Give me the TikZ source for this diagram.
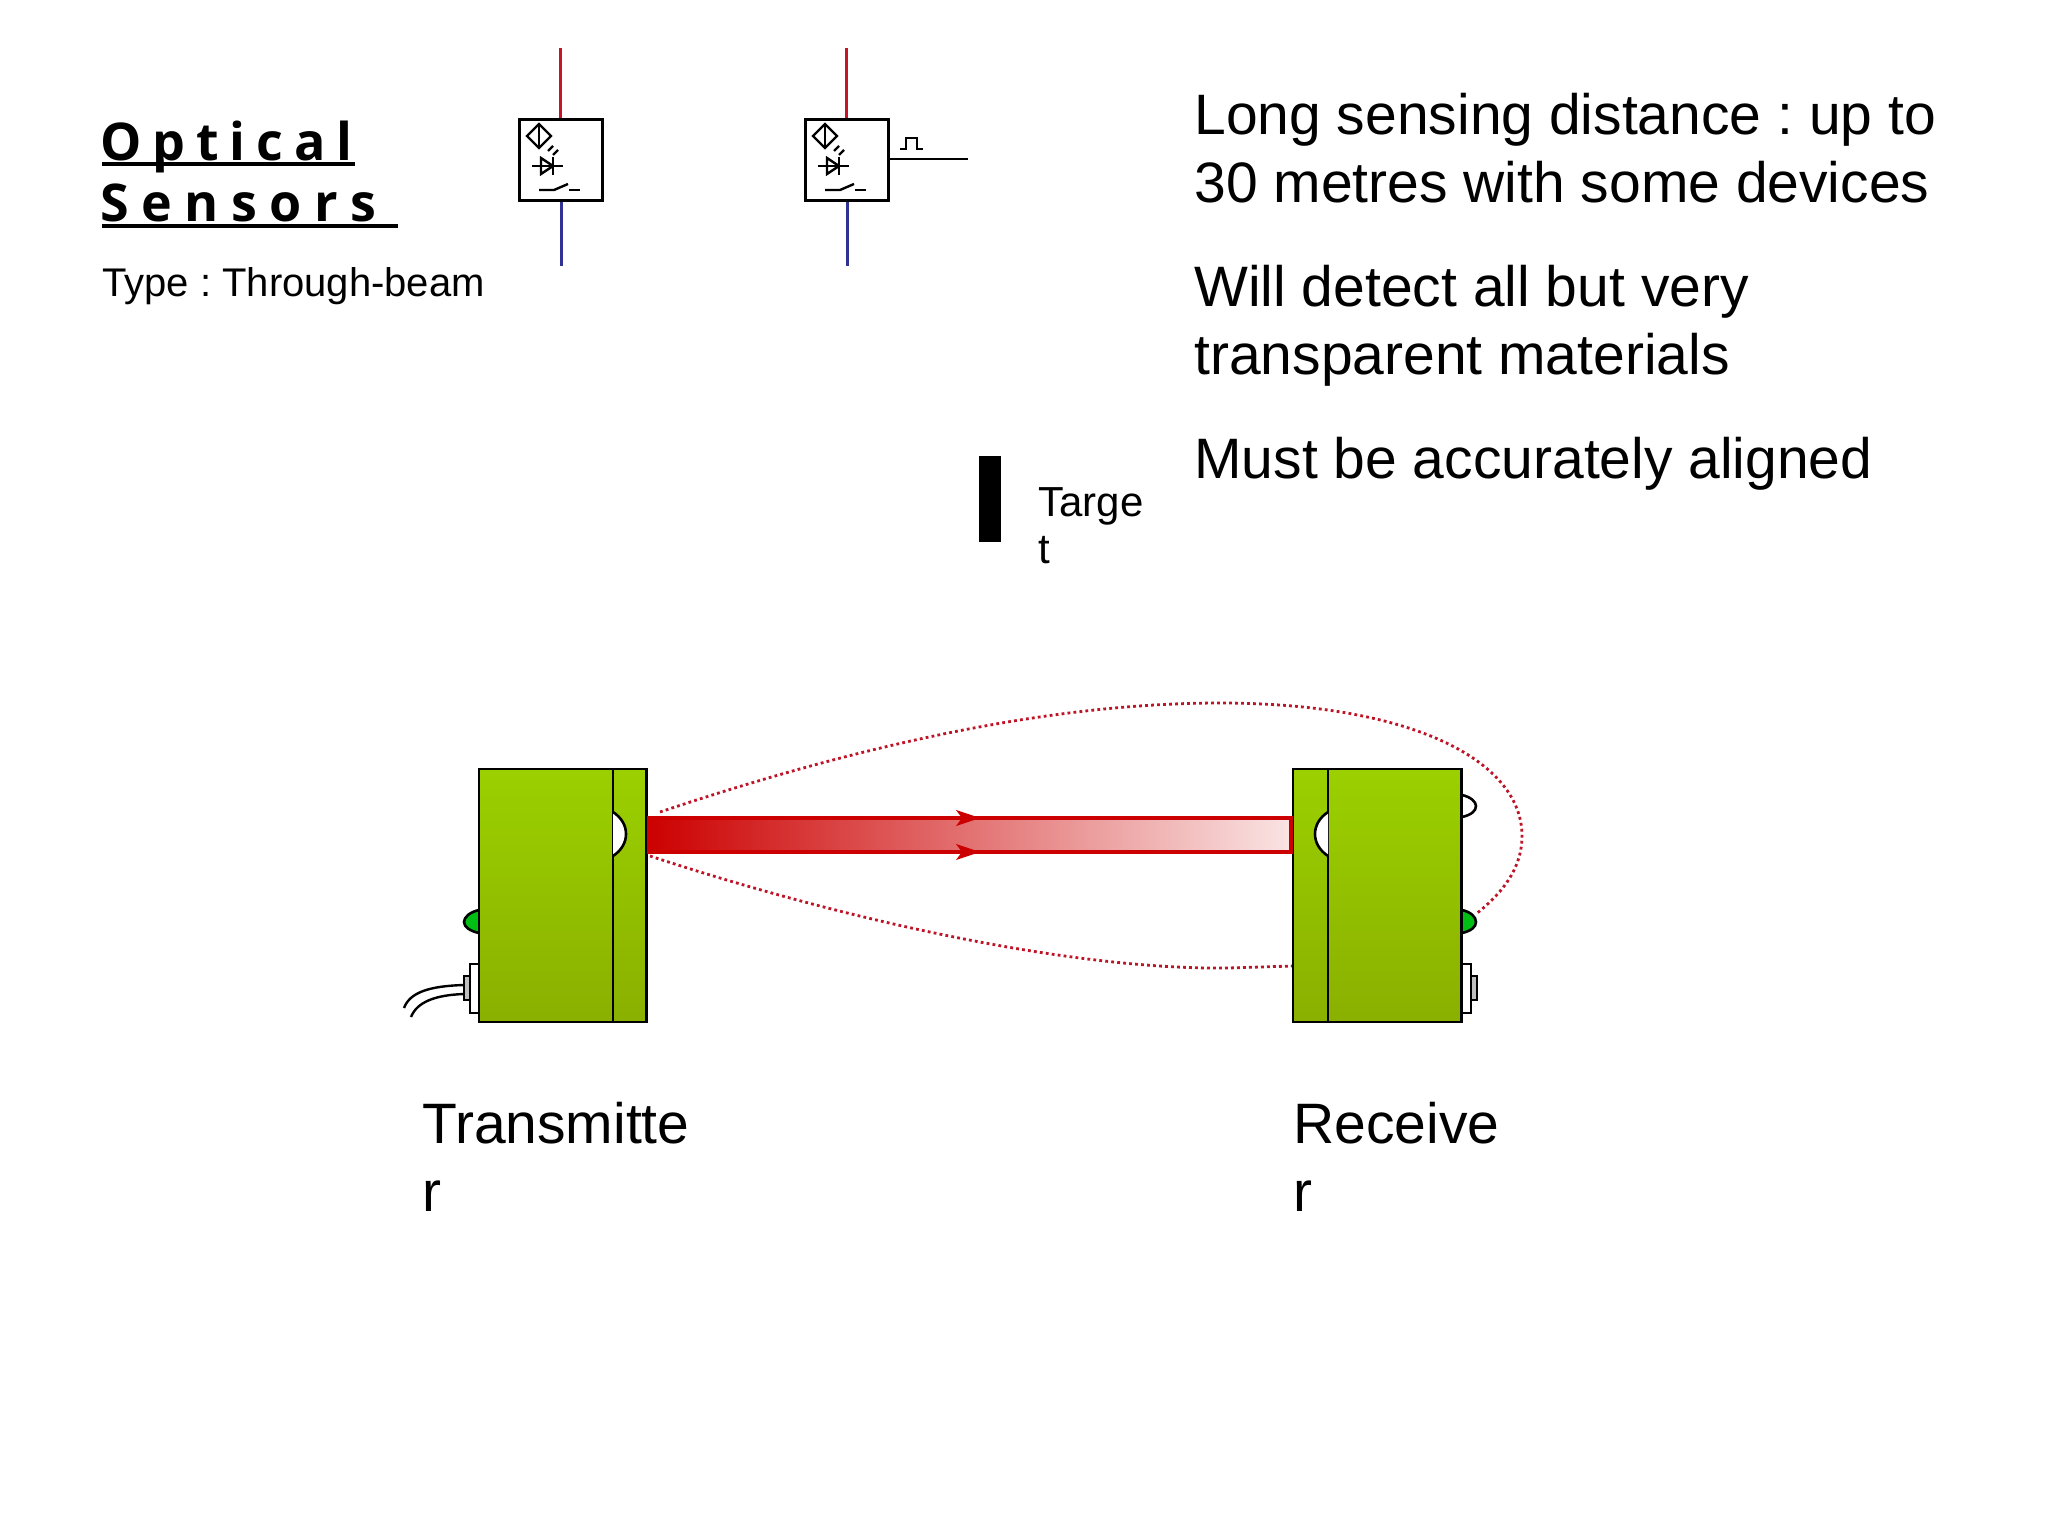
\documentclass[tikz,border=0pt]{standalone}
\usepackage{fontspec}
\setmainfont{Liberation Sans}
\newfontfamily\titlefont[LetterSpace=24]{Open Sans}
\newfontfamily\titlefonttight[LetterSpace=21]{Open Sans}
\frenchspacing
\usetikzlibrary{arrows.meta}
\definecolor{symred}{RGB}{200,20,40}
\definecolor{symblue}{RGB}{50,50,150}
\definecolor{bodytop}{RGB}{155,208,0}
\definecolor{bodybot}{RGB}{138,176,0}
\definecolor{beamred}{RGB}{204,0,0}
\definecolor{beamend}{RGB}{250,228,228}
\definecolor{dotred}{RGB}{190,20,40}
\definecolor{ledgreen}{RGB}{0,190,20}
\tikzset{
  symbox/.style={draw,line width=1.3pt,fill=white,minimum width=41.5pt,minimum height=40.5pt,inner sep=0pt},
  symline/.style={line width=1.2pt},
  outline/.style={draw=black,line width=1.3pt},
  body/.style={outline,top color=bodytop,bottom color=bodybot},
  lobe/.style={dotred,line width=1.4pt,dash pattern=on 1.4pt off 1.6pt},
  bigtext/.style={anchor=base west,inner sep=0pt,align=left,font=\fontsize{28.5}{34}\selectfont},
  smalltext/.style={anchor=base west,inner sep=0pt,align=left,font=\fontsize{20}{23.5}\selectfont},
  targettext/.style={anchor=base west,inner sep=0pt,align=left,font=\fontsize{21}{23.5}\selectfont},
  titletext/.style={anchor=base west,inner sep=0pt,font=\bfseries\fontsize{26}{30}\selectfont}
}
\begin{document}
\begin{tikzpicture}[x=0.5pt,y=-0.5pt]
  \useasboundingbox (0,0) rectangle (2048,1536);
  % title
  \node[titletext] (title1) at (100,160) {\titlefonttight Optical};
  \node[titletext] (title2) at (100,221) {\titlefont Sensors};
  \node[smalltext] (type) at (102,296) {Type : Through-beam};
  \draw[line width=2pt] (102,164) -- (355,164);
  \draw[line width=2pt] (102,226) -- (398,226);
  % sensor symbols
  \coordinate (top1) at (560,48);
  \coordinate (bot1) at (561,266);
  \coordinate (top2) at (846,48);
  \coordinate (bot2) at (847,266);
  \coordinate (out2) at (968,159);
  \node[symbox] (sym1) at (561,160) {};
  \node[symbox] (sym2) at (847,160) {};
  \draw[symred,line width=1.5pt] (top1) -- (sym1.north -| top1);
  \draw[symblue,line width=1.5pt] (sym1.south -| bot1) -- (bot1);
  \draw[symred,line width=1.5pt] (top2) -- (sym2.north -| top2);
  \draw[symblue,line width=1.5pt] (sym2.south -| bot2) -- (bot2);
  \draw[symline] (sym2.east |- out2) -- (out2);
  \draw[symline] (900,149) -- (906,149) -- (906,138) -- (917,138) -- (917,149) -- (923,149);
  \foreach \sx in {519,805} {
    \begin{scope}[shift={(\sx,119)},symline]
      \draw (20,5) -- (32,17) -- (20,29) -- (8,17) -- cycle;
      \draw (20,5) -- (20,29);
      \draw (29,32) -- (34,27);
      \draw (34,36) -- (39,31);
      \draw (13,47) -- (44,47);
      \draw (22,39) -- (34,47) -- (22,55) -- cycle;
      \draw (34,38) -- (34,56);
      \draw (20,71) -- (35,71) -- (49,65);
      \draw (50,71) -- (61,71);
    \end{scope}
  }
  % target
  \node[fill=black,minimum width=11pt,minimum height=43pt,inner sep=0pt] (target) at (990,499) {};
  \node[targettext] (targetlabel) at (1038,563) {Targe\\t};
  % text
  \node[bigtext] (line1) at (1194,202) {Long sensing distance : up to\\30 metres with some devices};
  \node[bigtext] (line2) at (1194,374) {Will detect all but very\\transparent materials};
  \node[bigtext] (line3) at (1194,478) {Must be accurately aligned};
  % dotted field
  \coordinate (lobeA) at (660,812);
  \coordinate (lobeB) at (1476,914);
  \coordinate (lobeC) at (1292,966);
  \coordinate (lobeD) at (650,856);
  \draw[lobe] (lobeA) .. controls (860,745) and (1050,703) .. (1220,703)
    .. controls (1410,703) and (1522,760) .. (1522,836)
    .. controls (1522,870) and (1500,895) .. (lobeB);
  \draw[lobe] (lobeD) .. controls (860,925) and (1080,970) .. (1228,968) -- (lobeC);
  % transmitter
  \path[outline,fill=white] (470,964) rectangle (479,1013);
  \path[outline,fill=lightgray] (464,976) rectangle (470,1000);
  \draw[line width=1.2pt] (464,985) .. controls (430,986) and (410,992) .. (404,1008);
  \draw[line width=1.2pt] (464,994) .. controls (435,995) and (417,1002) .. (411,1017);
  \path[outline,fill=ledgreen] (479,910) .. controls (470,912) and (464,917) .. (464,922)
    .. controls (464,927) and (470,931) .. (479,933);
  \path[body] (479,769) rectangle (646.5,1022);
  \draw[outline] (613,769) -- (613,1022);
  \path[outline,fill=white] (613,812) .. controls (622,818) and (626,826) .. (626,834)
    .. controls (626,842) and (622,850) .. (613,856);
  % receiver
  \path[outline,fill=white] (1462,964) rectangle (1471,1013);
  \path[outline,fill=lightgray] (1471,976) rectangle (1477,1000);
  \path[outline,fill=ledgreen] (1462,910) .. controls (1471,912) and (1476,917) .. (1476,922)
    .. controls (1476,927) and (1471,931) .. (1462,933);
  \path[outline,fill=white] (1462,795) .. controls (1471,797) and (1476,802) .. (1476,806)
    .. controls (1476,811) and (1471,815) .. (1462,817);
  \path[body] (1293,769) rectangle (1461.5,1022);
  \draw[outline] (1328,769) -- (1328,1022);
  \path[outline,fill=white] (1328,812) .. controls (1319,818) and (1315,826) .. (1315,834)
    .. controls (1315,842) and (1319,850) .. (1328,856);
  % beam
  \path[left color=beamred,right color=beamend] (647,817) rectangle (1291,853);
  \draw[beamred,line width=2pt] (647,818) -- (1291,818) -- (1291,852) -- (647,852);
  \foreach \ay in {818,852} {
    \draw[-{Stealth[length=12pt,width=8pt,inset=3pt]},beamred,line width=1pt] (940,\ay) -- (980,\ay);
  }
  % labels
  \node[bigtext] (txlabel) at (422,1211) {Transmitte\\r};
  \node[bigtext] (rxlabel) at (1293,1211) {Receive\\r};
\end{tikzpicture}
\end{document}
